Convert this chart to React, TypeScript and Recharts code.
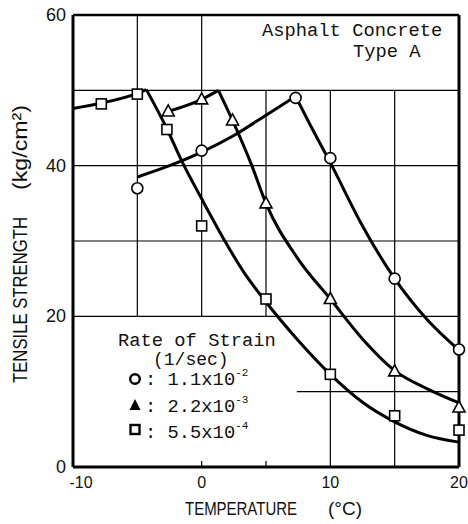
import React from "react";
import { ComposedChart, Line, Scatter, XAxis, YAxis, ReferenceLine } from "recharts";

// measured points (temperature in °C, tensile strength in kg/cm2)
const circleTemp = [-5, 0, 7.3, 10, 15, 20];
const circleStrength = [37, 42, 49, 41, 25, 15.6];
const triangleTemp = [-2.6, 0, 2.4, 5, 10, 15, 20];
const triangleStrength = [47.2, 48.8, 46, 35, 22.3, 12.7, 7.9];
const squareTemp = [-7.8, -5, -2.7, 0, 5, 10, 15, 20];
const squareStrength = [48.2, 49.5, 44.8, 32, 22.3, 12.3, 6.8, 4.9];

// fitted curves, each one a rising and a falling branch
const circleRiseTemp = [-5, -2.5, 0, 2.5, 5, 7.3];
const circleRiseStrength = [38.5, 40, 41.8, 44, 46.7, 49.2];
const circleFallTemp = [7.3, 8.5, 10, 12.5, 15, 17.5, 20];
const circleFallStrength = [49.2, 45.2, 40.4, 32, 25, 19.6, 15.5];

const triangleRiseTemp = [-2.6, 0, 1.3];
const triangleRiseStrength = [47.2, 48.8, 50];
const triangleFallTemp = [1.3, 2.4, 3.9, 5, 7.5, 10, 12.5, 15, 17.5, 20];
const triangleFallStrength = [50, 46, 40, 35, 27.6, 22.3, 17, 12.8, 10.4, 8.5];

const squareRiseTemp = [-10, -7.8, -5, -4.3];
const squareRiseStrength = [47.6, 48.3, 49.6, 50.1];
const squareFallTemp = [-4.3, -2.7, -1.6, 0, 1.7, 3.3, 5, 7.5, 10, 12.5, 15, 17.5, 20];
const squareFallStrength = [50.1, 44.9, 40.8, 35.6, 30.3, 25.8, 21.9, 16.8, 12.3, 8.6, 6.0, 4.2, 3.3];

const xTicks = [-10, 0, 10, 20];
const yTicks = [0, 20, 40, 60];

const toPoints = (t: number[], s: number[]) => t.map((x, i) => ({ x, y: s[i] }));

// grid segments (the original has a broken grid around the text boxes)
const vGrid = [
  { x: -5, from: 20, to: 60 },
  { x: 0, from: 20, to: 60 },
  { x: 5, from: 20, to: 50 },
  { x: 10, from: 0, to: 50 },
  { x: 15, from: 0, to: 50 },
];
const hGrid = [
  { y: 10, from: 7.4, to: 20 },
  { y: 20, from: -10, to: 20 },
  { y: 30, from: -10, to: 20 },
  { y: 40, from: -10, to: 20 },
  { y: 50, from: -10, to: 20 },
];

const OpenCircle = (p: any) => (
  <circle cx={p.cx} cy={p.cy} r={5.5} fill="#fff" stroke="#000" strokeWidth={1.6} />
);
const OpenTriangle = (p: any) => {
  const { cx, cy } = p;
  return (
    <polygon
      points={`${cx},${cy - 6.5} ${cx - 6},${cy + 4.5} ${cx + 6},${cy + 4.5}`}
      fill="#fff"
      stroke="#000"
      strokeWidth={1.6}
    />
  );
};
const OpenSquare = (p: any) => (
  <rect x={p.cx - 5} y={p.cy - 5} width={10} height={10} fill="#fff" stroke="#000" strokeWidth={1.6} />
);

const sans = "'Liberation Sans', Arial, sans-serif";
const mono = "'Liberation Mono', 'Courier New', monospace";

const XTick = ({ x, y, payload }: any) => (
  <text
    x={x + (payload.value === -10 ? 8 : 0)}
    y={y + 13}
    textAnchor="middle"
    fontFamily={sans}
    fontSize={16}
    fill="#111"
  >
    {payload.value}
  </text>
);

const YTick = ({ x, y, payload }: any) => (
  <text x={x + 1} y={y + 6} textAnchor="end" fontFamily={sans} fontSize={18} fill="#111">
    {payload.value}
  </text>
);

const curve = (t: number[], s: number[], key: string) => (
  <Line
    key={key}
    data={toPoints(t, s)}
    dataKey="y"
    type="monotone"
    stroke="#000"
    strokeWidth={3}
    dot={false}
    isAnimationActive={false}
  />
);

const App: React.FC = () => {
  return (
    <div style={{ position: "absolute", left: 0, top: 0, width: 468, height: 524, background: "#fff" }}>
      <ComposedChart width={468} height={524} margin={{ top: 15, right: 9, left: 0, bottom: 0 }}>
        <XAxis
          type="number"
          dataKey="x"
          domain={[-10, 20]}
          ticks={xTicks}
          tick={<XTick />}
          tickLine={false}
          height={57}
          axisLine={{ stroke: "#000", strokeWidth: 3 }}
        />
        <YAxis
          type="number"
          dataKey="y"
          domain={[0, 60]}
          ticks={yTicks}
          tick={<YTick />}
          tickLine={false}
          width={73}
          axisLine={{ stroke: "#000", strokeWidth: 3 }}
        />
        {vGrid.map((g) => (
          <ReferenceLine key={"v" + g.x} segment={[{ x: g.x, y: g.from }, { x: g.x, y: g.to }]} stroke="#000" strokeWidth={1.2} />
        ))}
        {hGrid.map((g) => (
          <ReferenceLine key={"h" + g.y} segment={[{ x: g.from, y: g.y }, { x: g.to, y: g.y }]} stroke="#000" strokeWidth={1.2} />
        ))}
        <ReferenceLine segment={[{ x: 0, y: 0 }, { x: 0, y: 0.8 }]} stroke="#000" strokeWidth={1.2} />
        <ReferenceLine segment={[{ x: 5, y: 0 }, { x: 5, y: 0.8 }]} stroke="#000" strokeWidth={1.2} />
        <ReferenceLine y={60} stroke="#000" strokeWidth={2.5} />
        <ReferenceLine x={20} stroke="#000" strokeWidth={3} />

        {curve(circleRiseTemp, circleRiseStrength, "cr")}
        {curve(circleFallTemp, circleFallStrength, "cf")}
        {curve(triangleRiseTemp, triangleRiseStrength, "tr")}
        {curve(triangleFallTemp, triangleFallStrength, "tf")}
        {curve(squareRiseTemp, squareRiseStrength, "sr")}
        {curve(squareFallTemp, squareFallStrength, "sf")}

        <Scatter data={toPoints(circleTemp, circleStrength)} dataKey="y" shape={OpenCircle} isAnimationActive={false} />
        <Scatter data={toPoints(triangleTemp, triangleStrength)} dataKey="y" shape={OpenTriangle} isAnimationActive={false} />
        <Scatter data={toPoints(squareTemp, squareStrength)} dataKey="y" shape={OpenSquare} isAnimationActive={false} />
      </ComposedChart>

      <svg width={468} height={524} style={{ position: "absolute", left: 0, top: 0, pointerEvents: "none" }}>
        {/* axis titles */}
        <g transform="translate(27,0) rotate(-90)" fontFamily={sans} fontSize={20} fill="#111">
          <text x={-383} y={0} textLength={166} lengthAdjust="spacingAndGlyphs">
            TENSILE STRENGTH
          </text>
          <text x={-190} y={0} textLength={85} lengthAdjust="spacingAndGlyphs">
            (kg/cm²)
          </text>
        </g>
        <text x={185} y={515} fontFamily={sans} fontSize={18.6} fill="#111" textLength={112} lengthAdjust="spacingAndGlyphs">
          TEMPERATURE
        </text>
        <text x={328} y={515} fontFamily={sans} fontSize={18.6} fill="#111" textLength={34} lengthAdjust="spacingAndGlyphs">
          (°C)
        </text>

        {/* title box */}
        <text x={262} y={36} fontFamily={mono} fontSize={18.8} fill="#111">
          Asphalt Concrete
        </text>
        <text x={353} y={57} fontFamily={mono} fontSize={18.8} fill="#111">
          Type A
        </text>

        {/* legend */}
        <text x={118} y={346} fontFamily={mono} fontSize={18.8} fill="#111">
          Rate of Strain
        </text>
        <text x={153} y={365} fontFamily={mono} fontSize={18} fill="#111">
          (1/sec)
        </text>
        <circle cx={135} cy={379} r={4.8} fill="none" stroke="#000" strokeWidth={2.4} />
        <polygon points="135,399 129.5,410 140.5,410" fill="#000" />
        <rect x={130.5} y={425} width={9} height={9} fill="none" stroke="#000" strokeWidth={2.4} />
        <text x={145} y={385} fontFamily={mono} fontSize={18.8} fill="#111">
          : 1.1x10<tspan dy={-9} fontSize={11}>-2</tspan>
        </text>
        <text x={145} y={412} fontFamily={mono} fontSize={18.8} fill="#111">
          : 2.2x10<tspan dy={-9} fontSize={11}>-3</tspan>
        </text>
        <text x={145} y={438} fontFamily={mono} fontSize={18.8} fill="#111">
          : 5.5x10<tspan dy={-9} fontSize={11}>-4</tspan>
        </text>
      </svg>
    </div>
  );
};

export default App;
